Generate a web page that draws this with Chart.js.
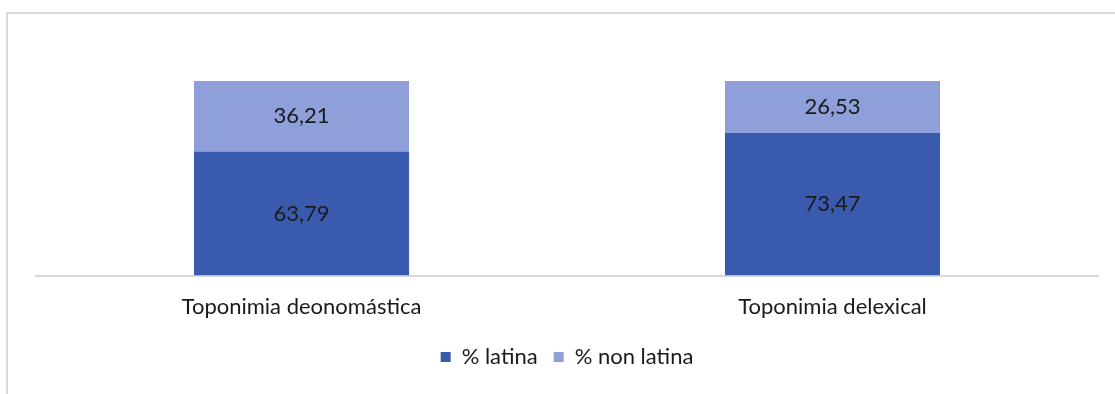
<!DOCTYPE html>
<html>
<head>
<meta charset="utf-8">
<script src="https://cdn.jsdelivr.net/npm/chart.js@4"></script>
<style>
  html, body { margin: 0; padding: 0; background: #fff; }
  #wrap { position: relative; width: 1115px; height: 394px; }
  #frame { position: absolute; left: 6px; top: 12px; right: -4px; bottom: -4px;
           border-left: 2px solid #d9d9d9; border-top: 2px solid #d9d9d9; }
  canvas { position: absolute; left: 0; top: 0; }
</style>
</head>
<body>
<div id="wrap">
  <div id="frame"></div>
  <canvas id="grafico" width="1115" height="394"></canvas>
</div>
<script>
// categorias e valores (%)
const categorias = ["Toponimia deonomástica", "Toponimia delexical"];
const latina = [63.79, 73.47];
const nonLatina = [36.21, 26.53];

const fonte = "Lato, 'Open Sans', sans-serif";

// escreve o valor no meio de cada segmento
const rotulos = {
  id: "rotulos",
  afterDatasetsDraw(chart) {
    const ctx = chart.ctx;
    ctx.save();
    ctx.font = "22px " + fonte;
    ctx.fillStyle = "#1a1a1a";
    ctx.textAlign = "center";
    ctx.textBaseline = "middle";
    chart.data.datasets.forEach((ds, i) => {
      chart.getDatasetMeta(i).data.forEach((bar, j) => {
        const txt = ds.data[j].toFixed(2).replace(".", ",");
        ctx.fillText(txt, bar.x, (bar.y + bar.base) / 2);
      });
    });
    ctx.restore();
  }
};

new Chart(document.getElementById("grafico"), {
  type: "bar",
  data: {
    labels: categorias,
    datasets: [
      { label: "% latina", data: latina, backgroundColor: "#3a5aad" },
      { label: "% non latina", data: nonLatina, backgroundColor: "#8e9fd9" }
    ]
  },
  options: {
    responsive: false,
    animation: false,
    layout: { padding: { left: 36, right: 17, top: 81, bottom: 16 } },
    datasets: { bar: { categoryPercentage: 1, barPercentage: 0.405 } },
    scales: {
      x: {
        stacked: true,
        grid: { display: false },
        border: { color: "#d9d9d9", width: 2 },
        ticks: { color: "#1a1a1a", font: { family: fonte, size: 22 }, padding: 10 }
      },
      y: { stacked: true, display: false, min: 0, max: 100 }
    },
    plugins: {
      legend: {
        position: "bottom",
        labels: {
          boxWidth: 10, boxHeight: 10, padding: 16,
          color: "#1a1a1a", font: { family: fonte, size: 22 }
        }
      },
      tooltip: { enabled: false }
    }
  },
  plugins: [rotulos]
});
</script>
</body>
</html>
